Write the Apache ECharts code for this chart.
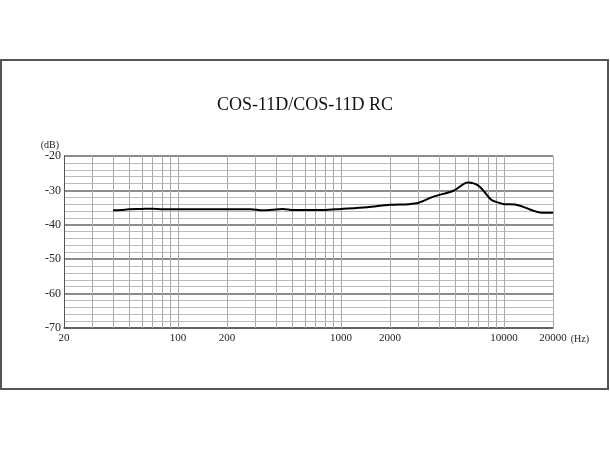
<!DOCTYPE html>
<html>
<head>
<meta charset="utf-8">
<script src="https://cdn.jsdelivr.net/npm/echarts@6/dist/echarts.min.js"></script>
<style>html,body{margin:0;padding:0;background:#fff}#c{width:610px;height:450px}</style>
</head>
<body>
<div id="c"></div>
<script>
const titleText = 'COS-11D/COS-11D RC';
const freqs = [40, 45, 50, 60, 70, 80, 100, 150, 200, 280, 330, 380, 440, 510, 600, 780, 1000, 1450, 2000, 2600, 3000, 3700, 4900, 6000, 7000, 8400, 9500, 10000, 11700, 16600, 20000];
const levels = [-35.8, -35.7, -35.5, -35.4, -35.3, -35.5, -35.5, -35.5, -35.5, -35.5, -35.8, -35.6, -35.4, -35.7, -35.7, -35.7, -35.4, -34.9, -34.2, -34.0, -33.6, -31.8, -30.1, -27.7, -28.7, -32.8, -33.7, -34.0, -34.1, -36.4, -36.5];
const xTickLabels = [20, 100, 200, 1000, 2000, 10000, 20000];
const xGridLines = [30, 40, 50, 60, 70, 80, 90, 100, 200, 300, 400, 500, 600, 700, 800, 900, 1000, 2000, 3000, 4000, 5000, 6000, 7000, 8000, 9000, 10000, 20000];
const yMin = -70, yMax = -20, yStep = 10;

const serif = 'Liberation Serif, Times New Roman, serif';
const chart = echarts.init(document.getElementById('c'), null, {renderer: 'canvas'});
chart.setOption({
  animation: false,
  backgroundColor: '#fff',
  graphic: [{
    type: 'rect', shape: {x: 1, y: 60, width: 607, height: 329},
    style: {fill: 'none', stroke: '#555', lineWidth: 2}, silent: true
  }],
  title: {
    text: titleText, left: 'center', top: 91,
    textStyle: {fontFamily: serif, fontSize: 18, fontWeight: 'normal', color: '#111'}
  },
  grid: {left: 64, right: 57, top: 156, bottom: 122, containLabel: false},
  xAxis: {
    type: 'log', logBase: 10, min: 20, max: 20000,
    name: '(Hz)', nameLocation: 'end', nameGap: 14,
    nameTextStyle: {fontFamily: serif, fontSize: 10, color: '#222', verticalAlign: 'top', padding: [6, 0, 0, 0]},
    axisLine: {show: true, lineStyle: {color: '#555', width: 1.5}},
    axisTick: {show: false},
    splitLine: {show: false},
    axisLabel: {customValues: xTickLabels, formatter: v => String(Math.round(v)), fontFamily: serif, fontSize: 11, color: '#222', margin: 5, hideOverlap: false}
  },
  yAxis: {
    type: 'value', min: yMin, max: yMax, interval: yStep,
    name: '(dB)', nameLocation: 'end', nameGap: 6,
    nameTextStyle: {fontFamily: serif, fontSize: 10, color: '#222', align: 'right', padding: [0, 5, 0, 0]},
    axisLine: {show: true, lineStyle: {color: '#555', width: 1}},
    axisTick: {show: false},
    axisLabel: {fontFamily: serif, fontSize: 12, color: '#222', margin: 3},
    splitLine: {show: true, lineStyle: {color: '#666', width: 1.5}},
    minorTick: {show: false, splitNumber: 5},
    minorSplitLine: {show: true, lineStyle: {color: '#bbb', width: 1}}
  },
  series: [{
    type: 'line',
    data: freqs.map((f, i) => [f, levels[i]]),
    showSymbol: false, smooth: 0.3,
    lineStyle: {color: '#000', width: 2},
    z: 5,
    markLine: {
      silent: true, symbol: 'none', animation: false,
      label: {show: false},
      lineStyle: {color: '#aaa', width: 1, type: 'solid'},
      data: xGridLines.map(v => ({xAxis: v}))
    }
  }]
});
</script>
</body>
</html>
